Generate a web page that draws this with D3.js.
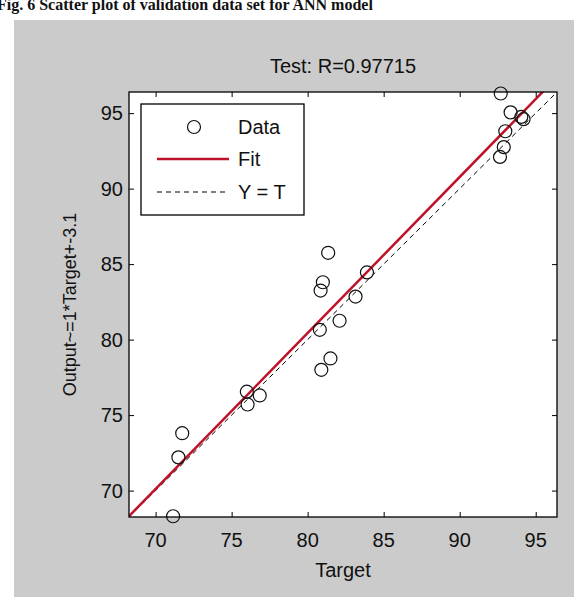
<!DOCTYPE html>
<meta charset="utf-8">
<style>
	body { margin: 0; background: #fff; }
	text { font-family: "Liberation Sans", Arial, sans-serif; fill: #111; }
</style>
<svg id="chart" width="587" height="603"></svg>
<script src="https://d3js.org/d3.v7.min.js"></script>
<script>
	// Test data: target vs network output
	var targets = [92.7, 93.35, 94.05, 94.2, 93.0, 92.9, 92.65,
		81.35, 81.0, 80.85, 83.9, 83.15, 82.1, 80.8, 81.5, 80.9,
		76.0, 76.85, 76.05, 71.75, 71.5, 71.15];
	var outputs = [96.3, 95.05, 94.75, 94.6, 93.8, 92.75, 92.1,
		85.75, 83.8, 83.25, 84.45, 82.85, 81.25, 80.65, 78.75, 78.0,
		76.55, 76.3, 75.7, 73.8, 72.2, 68.3];
	var ticks = [70, 75, 80, 85, 90, 95];
	var fitSlope = 1.033, fitIntercept = -2.2;
	var axisRange = [68.25, 96.4];
	var legendItems = ["Data", "Fit", "Y = T"];

	drawChart();

	function drawChart() {
		var svg = d3.select("#chart");

		// figure background + caption (cut at the top in the source)
		svg.append("text")
			.attr("x", -3).attr("y", 10)
			.style("font", "bold 16px 'Liberation Serif', serif")
			.text("Fig. 6 Scatter plot of validation data set for ANN model");
		svg.append("rect")
			.attr("x", 14).attr("y", 20).attr("width", 560).attr("height", 577)
			.attr("fill", "#cbcbcb");

		var pl = 129, pt = 92, pr = 557, pb = 517;
		var x = d3.scaleLinear().domain(axisRange).range([pl, pr]),
			y = d3.scaleLinear().domain(axisRange).range([pb, pt]);

		svg.append("rect")
			.attr("x", pl).attr("y", pt)
			.attr("width", pr - pl).attr("height", pb - pt)
			.attr("fill", "#fff");

		svg.append("clipPath").attr("id", "clip")
			.append("rect")
			.attr("x", pl).attr("y", pt)
			.attr("width", pr - pl).attr("height", pb - pt);

		var plot = svg.append("g").attr("clip-path", "url(#clip)");

		// Y = T
		plot.append("line")
			.attr("x1", x(axisRange[0])).attr("y1", y(axisRange[0]))
			.attr("x2", x(axisRange[1])).attr("y2", y(axisRange[1]))
			.attr("stroke", "#000").attr("stroke-width", 1)
			.attr("stroke-dasharray", "5,4");

		// fit line
		plot.append("line")
			.attr("x1", x(axisRange[0])).attr("y1", y(fitSlope * axisRange[0] + fitIntercept))
			.attr("x2", x(axisRange[1])).attr("y2", y(fitSlope * axisRange[1] + fitIntercept))
			.attr("stroke", "#bf1228").attr("stroke-width", 2.5);

		// data circles (not clipped, like matlab markers)
		svg.append("g").selectAll("circle")
			.data(targets)
			.enter().append("circle")
			.attr("cx", function(d) { return x(d); })
			.attr("cy", function(d, i) { return y(outputs[i]); })
			.attr("r", 6.5)
			.attr("fill", "none")
			.attr("stroke", "#111").attr("stroke-width", 1.2);

		// ticks inside on all four sides
		var tickLen = 5;
		function strip(g) { g.select(".domain").remove(); g.selectAll(".tick text").remove(); }
		svg.append("g").attr("transform", "translate(0," + pb + ")")
			.call(d3.axisTop(x).tickValues(ticks).tickSize(tickLen)).call(strip);
		svg.append("g").attr("transform", "translate(0," + pt + ")")
			.call(d3.axisBottom(x).tickValues(ticks).tickSize(tickLen)).call(strip);
		svg.append("g").attr("transform", "translate(" + pl + ",0)")
			.call(d3.axisRight(y).tickValues(ticks).tickSize(tickLen)).call(strip);
		svg.append("g").attr("transform", "translate(" + pr + ",0)")
			.call(d3.axisLeft(y).tickValues(ticks).tickSize(tickLen)).call(strip);
		svg.selectAll(".tick line").attr("stroke", "#000");

		svg.append("rect")
			.attr("x", pl).attr("y", pt)
			.attr("width", pr - pl).attr("height", pb - pt)
			.attr("fill", "none").attr("stroke", "#000").attr("stroke-width", 1.3);

		// tick labels
		svg.append("g").selectAll("text")
			.data(ticks).enter().append("text")
			.attr("x", function(d) { return x(d); })
			.attr("y", pb + 30)
			.attr("text-anchor", "middle")
			.style("font-size", "20px")
			.text(function(d) { return d; });
		svg.append("g").selectAll("text")
			.data(ticks).enter().append("text")
			.attr("x", pl - 6)
			.attr("y", function(d) { return y(d) + 7; })
			.attr("text-anchor", "end")
			.style("font-size", "20px")
			.text(function(d) { return d; });

		// labels
		svg.append("text")
			.attr("x", (pl + pr) / 2).attr("y", 73)
			.attr("text-anchor", "middle")
			.style("font-size", "20px")
			.text("Test: R=0.97715");
		svg.append("text")
			.attr("x", (pl + pr) / 2).attr("y", pb + 60)
			.attr("text-anchor", "middle")
			.style("font-size", "20px")
			.text("Target");
		svg.append("text")
			.attr("transform", "translate(76," + ((pt + pb) / 2) + ") rotate(-90)")
			.attr("text-anchor", "middle")
			.style("font-size", "18px")
			.text("Output~=1*Target+-3.1");

		// legend
		var lg = svg.append("g").attr("transform", "translate(141,104)");
		lg.append("rect")
			.attr("width", 163).attr("height", 111)
			.attr("fill", "#fff").attr("stroke", "#000").attr("stroke-width", 1.3);
		var rows = [23, 55, 88];
		lg.append("circle").attr("cx", 53).attr("cy", rows[0]).attr("r", 6.5)
			.attr("fill", "none").attr("stroke", "#111").attr("stroke-width", 1.2);
		lg.append("line").attr("x1", 16).attr("x2", 88).attr("y1", rows[1]).attr("y2", rows[1])
			.attr("stroke", "#bf1228").attr("stroke-width", 2.5);
		lg.append("line").attr("x1", 16).attr("x2", 88).attr("y1", rows[2]).attr("y2", rows[2])
			.attr("stroke", "#000").attr("stroke-width", 1).attr("stroke-dasharray", "5,4");
		lg.selectAll("text.item")
			.data(legendItems).enter().append("text")
			.attr("class", "item")
			.attr("x", 97)
			.attr("y", function(d, i) { return rows[i] + 7; })
			.style("font-size", "20px")
			.text(function(d) { return d; });
	}
</script>
